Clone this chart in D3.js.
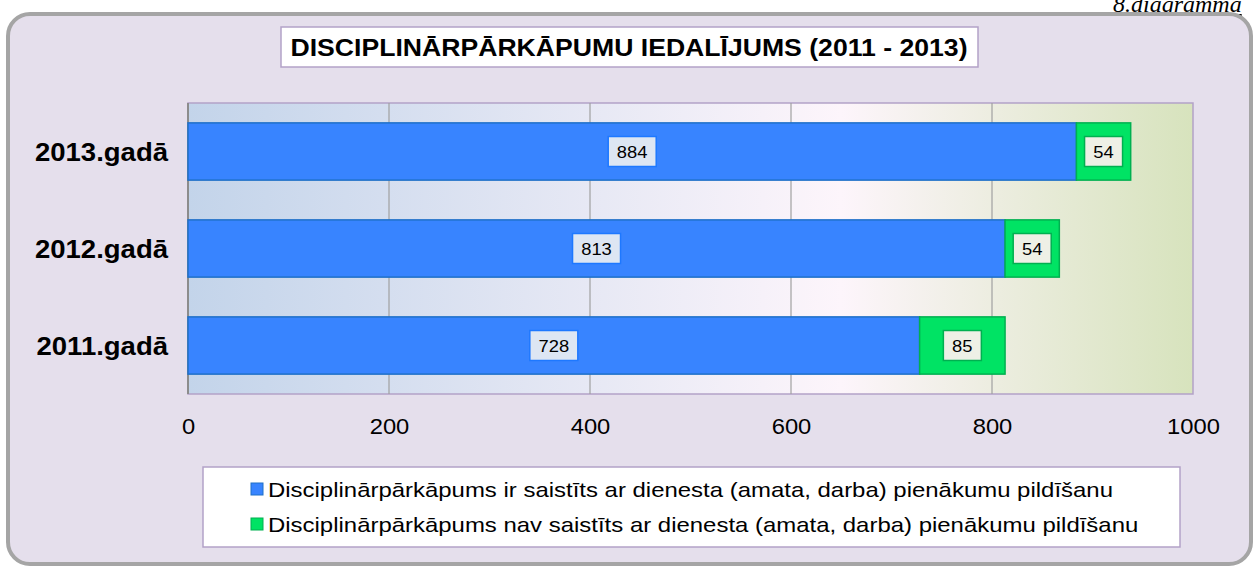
<!DOCTYPE html>
<html>
<head>
<meta charset="utf-8">
<script src="https://cdnjs.cloudflare.com/ajax/libs/d3/7.8.5/d3.min.js"></script>
<style>
  body { margin: 0; background: #fff; }
  svg { display: block; }
</style>
</head>
<body>
<div id="chart"></div>
<script>
// chart data
var years = ["2013.gadā", "2012.gadā", "2011.gadā"];
var related = [884, 813, 728];
var notRelated = [54, 54, 85];
var seriesNames = [
  "Disciplinārpārkāpums ir saistīts ar dienesta (amata, darba) pienākumu pildīšanu",
  "Disciplinārpārkāpums nav saistīts ar dienesta (amata, darba) pienākumu pildīšanu"
];
var xTicks = [0, 200, 400, 600, 800, 1000];
var title = "DISCIPLINĀRPĀRKĀPUMU IEDALĪJUMS (2011 - 2013)";
var note = "8.diagramma";

var w = 1259, h = 568,
    colors = ["#3884ff", "#00e364"],
    strokes = ["#1f70c8", "#00b050"],
    stretch = 1.14; // text in the picture is a bit wider than Arial

var svg = d3.select("#chart").append("svg")
    .attr("width", w)
    .attr("height", h);

var x = d3.scaleLinear().domain([0, 1000]).range([188, 1193]);
var y = d3.scaleBand().domain(years).range([103, 394]).paddingInner(0.41).paddingOuter(0.205);

// widen a text element by a factor
function widen(sel, f) {
  sel.each(function() {
    var len = this.getComputedTextLength();
    d3.select(this).attr("textLength", len * f).attr("lengthAdjust", "spacingAndGlyphs");
  });
}

// gradients
var defs = svg.append("defs");
var grad = defs.append("linearGradient").attr("id", "plotbg")
    .attr("x1", "0%").attr("x2", "100%").attr("y1", "0%").attr("y2", "0%");
grad.append("stop").attr("offset", "0%").attr("stop-color", "#c3d4ea");
grad.append("stop").attr("offset", "65%").attr("stop-color", "#fdf5fb");
grad.append("stop").attr("offset", "100%").attr("stop-color", "#d7e3bd");

// note in the corner
svg.append("text")
    .attr("x", 1113).attr("y", 12)
    .attr("font-family", "Liberation Serif")
    .attr("font-style", "italic")
    .attr("font-size", "24px")
    .attr("text-decoration", "underline")
    .attr("fill", "#000")
    .text(note);

// outer frame
svg.append("rect")
    .attr("x", 8).attr("y", 14)
    .attr("width", 1243).attr("height", 550)
    .attr("rx", 22).attr("ry", 22)
    .attr("fill", "#e5dfec")
    .attr("stroke", "#a5a5a5")
    .attr("stroke-width", 4);

// title box
svg.append("rect")
    .attr("x", 281).attr("y", 27)
    .attr("width", 697).attr("height", 40)
    .attr("fill", "#fff")
    .attr("stroke", "#b3a2c7")
    .attr("stroke-width", 1.5);
svg.append("text")
    .attr("x", 629).attr("y", 56)
    .attr("text-anchor", "middle")
    .attr("font-family", "Liberation Sans, Arial")
    .attr("font-weight", "bold")
    .attr("font-size", "24px")
    .attr("textLength", 677)
    .attr("lengthAdjust", "spacingAndGlyphs")
    .text(title);

// plot area
svg.append("rect")
    .attr("x", x(0)).attr("y", 103)
    .attr("width", x(1000) - x(0)).attr("height", 291)
    .attr("fill", "url(#plotbg)")
    .attr("stroke", "#b3a2c7")
    .attr("stroke-width", 1.5);

// gridlines
svg.append("g").selectAll("line")
    .data(xTicks.filter(function(d) { return d > 0 && d < 1000; }))
    .enter().append("line")
    .attr("x1", function(d) { return x(d); })
    .attr("x2", function(d) { return x(d); })
    .attr("y1", 103).attr("y2", 394)
    .attr("stroke", "#a0a0a0")
    .attr("stroke-width", 1.2);

// left axis line
svg.append("line")
    .attr("x1", x(0)).attr("x2", x(0))
    .attr("y1", 103).attr("y2", 394)
    .attr("stroke", "#8c8c8c")
    .attr("stroke-width", 2);

// bars
var rows = years.map(function(d, i) {
  return { year: d, a: related[i], b: notRelated[i] };
});

var g = svg.append("g");
g.selectAll("rect.a").data(rows).enter().append("rect")
    .attr("class", "a")
    .attr("x", x(0))
    .attr("y", function(d) { return y(d.year); })
    .attr("width", function(d) { return x(d.a) - x(0); })
    .attr("height", y.bandwidth())
    .attr("fill", colors[0])
    .attr("stroke", strokes[0])
    .attr("stroke-width", 1.5);
g.selectAll("rect.b").data(rows).enter().append("rect")
    .attr("class", "b")
    .attr("x", function(d) { return x(d.a); })
    .attr("y", function(d) { return y(d.year); })
    .attr("width", function(d) { return x(d.a + d.b) - x(d.a); })
    .attr("height", y.bandwidth())
    .attr("fill", colors[1])
    .attr("stroke", strokes[1])
    .attr("stroke-width", 1.5);

// value labels
function render_label(cx, cy, val, s) {
  var bw = String(val).length * 10 + 18;
  svg.append("rect")
      .attr("x", cx - bw / 2).attr("y", cy - 15)
      .attr("width", bw).attr("height", 30)
      .attr("fill", s == 0 ? "#dde6f3" : "#eef0e6")
      .attr("stroke", s == 0 ? "#1e78ff" : "#00b050")
      .attr("stroke-width", 1.5);
  svg.append("text")
      .attr("x", cx).attr("y", cy + 6)
      .attr("text-anchor", "middle")
      .attr("font-family", "Liberation Sans, Arial")
      .attr("font-size", "17px")
      .attr("fill", "#000")
      .text(val)
      .call(widen, 1.08);
}
rows.forEach(function(d) {
  var cy = y(d.year) + y.bandwidth() / 2;
  render_label((x(0) + x(d.a)) / 2, cy, d.a, 0);
  render_label((x(d.a) + x(d.a + d.b)) / 2, cy, d.b, 1);
});

// y category labels
svg.append("g").selectAll("text")
    .data(years).enter().append("text")
    .attr("x", 168)
    .attr("y", function(d) { return y(d) + y.bandwidth() / 2 + 9; })
    .attr("text-anchor", "end")
    .attr("font-family", "Liberation Sans, Arial")
    .attr("font-weight", "bold")
    .attr("font-size", "25px")
    .text(function(d) { return d; })
    .call(widen, 1.1);

// x axis tick labels
var xAxis = svg.append("g")
    .attr("transform", "translate(0,394)")
    .call(d3.axisBottom(x).tickValues(xTicks).tickFormat(d3.format("d")).tickSize(0).tickPadding(24));
xAxis.select(".domain").remove();
xAxis.selectAll("text")
    .attr("font-family", "Liberation Sans, Arial")
    .attr("font-size", "22px")
    .attr("fill", "#000")
    .call(widen, 1.08);

// legend
svg.append("rect")
    .attr("x", 203).attr("y", 467)
    .attr("width", 977).attr("height", 80)
    .attr("fill", "#fff")
    .attr("stroke", "#b3a2c7")
    .attr("stroke-width", 1.5);
var lg = svg.append("g").selectAll("g")
    .data(seriesNames).enter().append("g")
    .attr("transform", function(d, i) { return "translate(251," + (489 + i * 35) + ")"; });
lg.append("rect")
    .attr("x", 0).attr("y", -6)
    .attr("width", 12).attr("height", 12)
    .attr("fill", function(d, i) { return colors[i]; })
    .attr("stroke", function(d, i) { return strokes[i]; })
    .attr("stroke-width", 1);
lg.append("text")
    .attr("x", 17).attr("y", 8)
    .attr("font-family", "Liberation Sans, Arial")
    .attr("font-size", "21px")
    .text(function(d) { return d; })
    .call(widen, stretch);
</script>
</body>
</html>
